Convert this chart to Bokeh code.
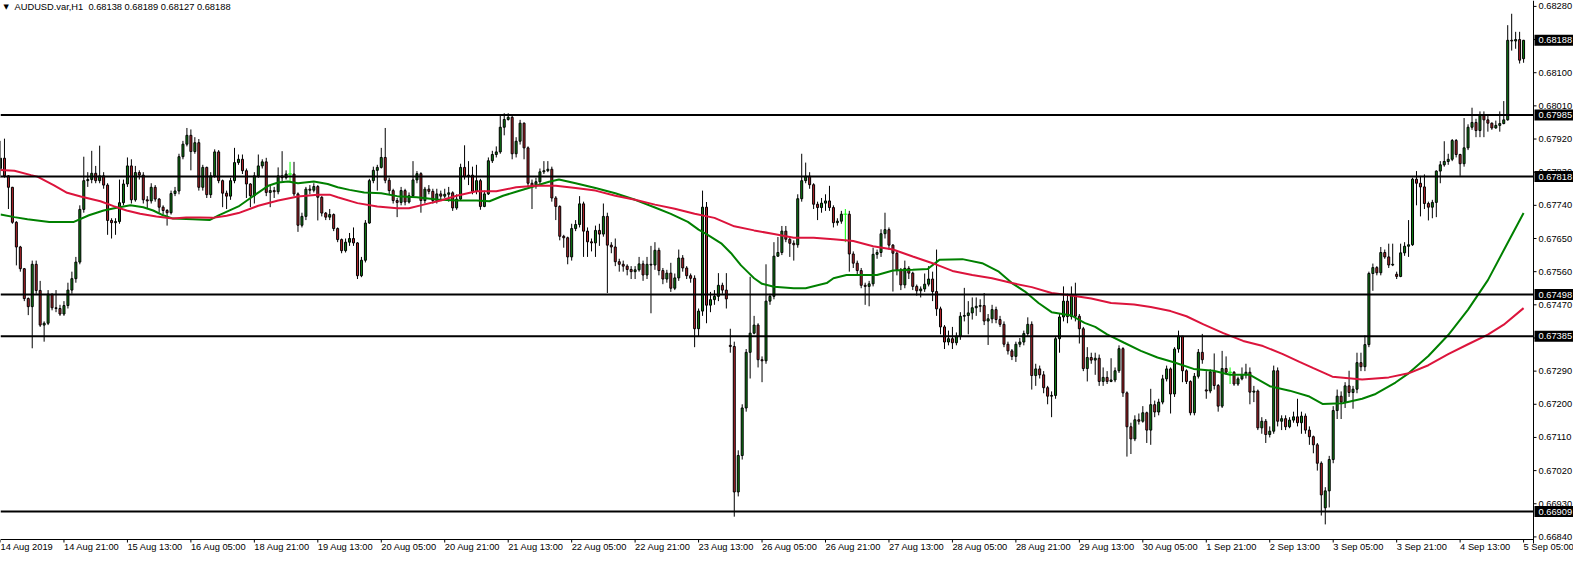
from bokeh.plotting import figure
from bokeh.models import Range1d, ColumnDataSource
from bokeh.core.properties import value
from bokeh.embed import file_html
from bokeh.resources import INLINE

# ---------------- data ----------------
chart_title = "AUDUSD.var,H1  0.68138 0.68189 0.68127 0.68188"

closes = [
    0.67868, 0.67820, 0.67789, 0.67694, 0.67627, 0.67568, 0.67487, 0.67465, 0.67580, 0.67509,
    0.67415, 0.67420, 0.67499, 0.67462, 0.67460, 0.67445, 0.67468, 0.67510, 0.67541, 0.67586,
    0.67729, 0.67807, 0.67810, 0.67827, 0.67807, 0.67820, 0.67795, 0.67699, 0.67693, 0.67696,
    0.67747, 0.67798, 0.67847, 0.67755, 0.67829, 0.67822, 0.67755, 0.67752, 0.67789, 0.67757,
    0.67735, 0.67726, 0.67720, 0.67772, 0.67779, 0.67872, 0.67906, 0.67930, 0.67886, 0.67910,
    0.67789, 0.67843, 0.67769, 0.67820, 0.67885, 0.67807, 0.67773, 0.67765, 0.67807, 0.67856,
    0.67865, 0.67834, 0.67798, 0.67766, 0.67820, 0.67847, 0.67858, 0.67775, 0.67780, 0.67777,
    0.67820, 0.67815, 0.67825, 0.67825, 0.67771, 0.67686, 0.67710, 0.67784, 0.67781, 0.67791,
    0.67762, 0.67719, 0.67708, 0.67715, 0.67677, 0.67647, 0.67617, 0.67640, 0.67650, 0.67638,
    0.67549, 0.67591, 0.67692, 0.67807, 0.67835, 0.67843, 0.67870, 0.67808, 0.67780, 0.67753,
    0.67748, 0.67780, 0.67749, 0.67766, 0.67809, 0.67826, 0.67753, 0.67784, 0.67778, 0.67753,
    0.67771, 0.67765, 0.67770, 0.67774, 0.67733, 0.67757, 0.67843, 0.67818, 0.67822, 0.67778,
    0.67807, 0.67737, 0.67771, 0.67861, 0.67878, 0.67885, 0.67952, 0.67973, 0.67979, 0.67880,
    0.67914, 0.67963, 0.67896, 0.67800, 0.67793, 0.67804, 0.67831, 0.67834, 0.67838, 0.67760,
    0.67737, 0.67656, 0.67652, 0.67600, 0.67677, 0.67688, 0.67744, 0.67670, 0.67641, 0.67638,
    0.67672, 0.67662, 0.67710, 0.67632, 0.67627, 0.67587, 0.67580, 0.67575, 0.67566, 0.67560,
    0.67565, 0.67581, 0.67551, 0.67580, 0.67578, 0.67618, 0.67563, 0.67540, 0.67556, 0.67515,
    0.67543, 0.67597, 0.67570, 0.67549, 0.67542, 0.67405, 0.67453, 0.67735, 0.67469, 0.67484,
    0.67493, 0.67523, 0.67510, 0.67486, 0.67357, 0.66962, 0.67061, 0.67190, 0.67341, 0.67393,
    0.67415, 0.67321, 0.67318, 0.67480, 0.67493, 0.67602, 0.67612, 0.67670, 0.67648, 0.67637,
    0.67633, 0.67758, 0.67807, 0.67819, 0.67796, 0.67743, 0.67734, 0.67746, 0.67752, 0.67734,
    0.67693, 0.67697, 0.67716, 0.67716, 0.67608, 0.67583, 0.67563, 0.67523, 0.67520, 0.67527,
    0.67607, 0.67612, 0.67663, 0.67674, 0.67632, 0.67610, 0.67565, 0.67524, 0.67569, 0.67556,
    0.67520, 0.67508, 0.67513, 0.67526, 0.67540, 0.67506, 0.67459, 0.67410, 0.67369, 0.67378,
    0.67367, 0.67385, 0.67439, 0.67441, 0.67448, 0.67462, 0.67466, 0.67468, 0.67426, 0.67432,
    0.67457, 0.67430, 0.67417, 0.67363, 0.67345, 0.67330, 0.67363, 0.67369, 0.67392, 0.67417,
    0.67278, 0.67296, 0.67280, 0.67245, 0.67222, 0.67224, 0.67378, 0.67437, 0.67480, 0.67438,
    0.67495, 0.67439, 0.67405, 0.67297, 0.67327, 0.67320, 0.67325, 0.67262, 0.67273, 0.67262,
    0.67266, 0.67291, 0.67351, 0.67231, 0.67139, 0.67106, 0.67158, 0.67154, 0.67177, 0.67130,
    0.67199, 0.67179, 0.67206, 0.67269, 0.67296, 0.67228, 0.67350, 0.67385, 0.67291, 0.67262,
    0.67177, 0.67276, 0.67341, 0.67321, 0.67236, 0.67288, 0.67251, 0.67195, 0.67297, 0.67287,
    0.67287, 0.67255, 0.67269, 0.67280, 0.67287, 0.67233, 0.67236, 0.67136, 0.67154, 0.67118,
    0.67127, 0.67291, 0.67154, 0.67161, 0.67139, 0.67157, 0.67166, 0.67150, 0.67168, 0.67130,
    0.67112, 0.67090, 0.67040, 0.66954, 0.66965, 0.67050, 0.67183, 0.67222, 0.67206, 0.67250,
    0.67232, 0.67241, 0.67313, 0.67302, 0.67362, 0.67555, 0.67571, 0.67557, 0.67612, 0.67600,
    0.67578, 0.67580, 0.67547, 0.67611, 0.67629, 0.67633, 0.67811, 0.67800, 0.67790, 0.67745,
    0.67735, 0.67748, 0.67833, 0.67850, 0.67859, 0.67865, 0.67916, 0.67878, 0.67853, 0.67896,
    0.67952, 0.67965, 0.67943, 0.67986, 0.67972, 0.67963, 0.67950, 0.67957, 0.67962, 0.67972,
    0.68188, 0.68186, 0.68190, 0.68134, 0.68188,
]

highs = [
    0.67915, 0.67921, 0.67822, 0.67790, 0.67697, 0.67630, 0.67570, 0.67490, 0.67590, 0.67590,
    0.67535, 0.67425, 0.67510, 0.67500, 0.67510, 0.67470, 0.67480, 0.67530, 0.67560, 0.67600,
    0.67740, 0.67872, 0.67830, 0.67888, 0.67847, 0.67902, 0.67830, 0.67800, 0.67705, 0.67705,
    0.67810, 0.67810, 0.67870, 0.67865, 0.67847, 0.67835, 0.67830, 0.67765, 0.67800, 0.67795,
    0.67760, 0.67740, 0.67730, 0.67780, 0.67790, 0.67880, 0.67915, 0.67950, 0.67946, 0.67925,
    0.67920, 0.67850, 0.67845, 0.67830, 0.67892, 0.67890, 0.67810, 0.67780, 0.67815, 0.67896,
    0.67878, 0.67878, 0.67840, 0.67800, 0.67830, 0.67878, 0.67865, 0.67869, 0.67795, 0.67790,
    0.67843, 0.67887, 0.67835, 0.67858, 0.67858, 0.67775, 0.67720, 0.67790, 0.67795, 0.67800,
    0.67795, 0.67765, 0.67722, 0.67730, 0.67718, 0.67680, 0.67650, 0.67650, 0.67665, 0.67680,
    0.67640, 0.67600, 0.67700, 0.67812, 0.67845, 0.67850, 0.67896, 0.67950, 0.67815, 0.67785,
    0.67760, 0.67790, 0.67785, 0.67775, 0.67860, 0.67833, 0.67830, 0.67790, 0.67795, 0.67785,
    0.67785, 0.67780, 0.67785, 0.67790, 0.67778, 0.67770, 0.67853, 0.67903, 0.67860, 0.67845,
    0.67850, 0.67812, 0.67780, 0.67870, 0.67888, 0.67900, 0.67985, 0.67990, 0.67990, 0.67985,
    0.67925, 0.67972, 0.67965, 0.67900, 0.67810, 0.67815, 0.67840, 0.67860, 0.67860, 0.67845,
    0.67765, 0.67740, 0.67660, 0.67655, 0.67690, 0.67700, 0.67765, 0.67750, 0.67680, 0.67650,
    0.67685, 0.67690, 0.67745, 0.67720, 0.67640, 0.67650, 0.67595, 0.67590, 0.67580, 0.67575,
    0.67575, 0.67600, 0.67590, 0.67600, 0.67630, 0.67640, 0.67625, 0.67570, 0.67565, 0.67584,
    0.67555, 0.67620, 0.67605, 0.67575, 0.67555, 0.67550, 0.67460, 0.67780, 0.67749, 0.67505,
    0.67510, 0.67556, 0.67530, 0.67556, 0.67405, 0.67370, 0.67075, 0.67200, 0.67350, 0.67546,
    0.67440, 0.67420, 0.67330, 0.67580, 0.67500, 0.67640, 0.67654, 0.67684, 0.67684, 0.67655,
    0.67645, 0.67770, 0.67880, 0.67856, 0.67830, 0.67800, 0.67750, 0.67760, 0.67770, 0.67793,
    0.67740, 0.67705, 0.67725, 0.67730, 0.67725, 0.67615, 0.67590, 0.67570, 0.67530, 0.67535,
    0.67625, 0.67620, 0.67675, 0.67720, 0.67680, 0.67635, 0.67615, 0.67570, 0.67590, 0.67575,
    0.67560, 0.67525, 0.67520, 0.67555, 0.67575, 0.67560, 0.67620, 0.67465, 0.67415, 0.67400,
    0.67410, 0.67395, 0.67450, 0.67516, 0.67480, 0.67490, 0.67490, 0.67485, 0.67502, 0.67445,
    0.67470, 0.67465, 0.67440, 0.67425, 0.67370, 0.67350, 0.67370, 0.67380, 0.67400, 0.67436,
    0.67425, 0.67310, 0.67305, 0.67290, 0.67250, 0.67235, 0.67385, 0.67445, 0.67520, 0.67500,
    0.67520, 0.67530, 0.67445, 0.67410, 0.67355, 0.67340, 0.67340, 0.67335, 0.67300, 0.67290,
    0.67325, 0.67300, 0.67360, 0.67355, 0.67235, 0.67150, 0.67170, 0.67175, 0.67195, 0.67180,
    0.67242, 0.67210, 0.67215, 0.67280, 0.67305, 0.67300, 0.67355, 0.67400, 0.67385, 0.67295,
    0.67265, 0.67285, 0.67350, 0.67391, 0.67290, 0.67295, 0.67338, 0.67255, 0.67345, 0.67330,
    0.67300, 0.67290, 0.67275, 0.67300, 0.67310, 0.67300, 0.67250, 0.67240, 0.67165, 0.67160,
    0.67140, 0.67305, 0.67300, 0.67170, 0.67170, 0.67165, 0.67180, 0.67215, 0.67180, 0.67175,
    0.67140, 0.67115, 0.67095, 0.67045, 0.66975, 0.67060, 0.67195, 0.67240, 0.67235, 0.67260,
    0.67291, 0.67250, 0.67340, 0.67340, 0.67387, 0.67560, 0.67582, 0.67575, 0.67627, 0.67620,
    0.67636, 0.67636, 0.67560, 0.67636, 0.67640, 0.67700, 0.67815, 0.67833, 0.67820, 0.67824,
    0.67750, 0.67755, 0.67835, 0.67860, 0.67914, 0.67880, 0.67920, 0.67920, 0.67880, 0.67977,
    0.67960, 0.68005, 0.67975, 0.67995, 0.67995, 0.67985, 0.67965, 0.67970, 0.67995, 0.68023,
    0.68229, 0.68260, 0.68211, 0.68211, 0.68189,
]

lows = [
    0.67815, 0.67815, 0.67730, 0.67690, 0.67577, 0.67560, 0.67480, 0.67442, 0.67352, 0.67500,
    0.67410, 0.67370, 0.67415, 0.67455, 0.67450, 0.67440, 0.67440, 0.67460, 0.67500, 0.67530,
    0.67580, 0.67720, 0.67790, 0.67800, 0.67800, 0.67800, 0.67785, 0.67660, 0.67650, 0.67660,
    0.67690, 0.67740, 0.67790, 0.67745, 0.67750, 0.67810, 0.67745, 0.67730, 0.67745, 0.67750,
    0.67720, 0.67715, 0.67685, 0.67715, 0.67765, 0.67770, 0.67865, 0.67900, 0.67835, 0.67880,
    0.67780, 0.67780, 0.67760, 0.67760, 0.67815, 0.67800, 0.67735, 0.67730, 0.67755, 0.67800,
    0.67850, 0.67825, 0.67760, 0.67735, 0.67745, 0.67815, 0.67840, 0.67765, 0.67735, 0.67760,
    0.67770, 0.67805, 0.67810, 0.67802, 0.67765, 0.67668, 0.67680, 0.67700, 0.67770, 0.67775,
    0.67699, 0.67710, 0.67700, 0.67700, 0.67670, 0.67640, 0.67610, 0.67612, 0.67630, 0.67630,
    0.67540, 0.67545, 0.67585, 0.67690, 0.67800, 0.67780, 0.67840, 0.67800, 0.67770, 0.67745,
    0.67708, 0.67740, 0.67740, 0.67745, 0.67760, 0.67800, 0.67720, 0.67745, 0.67770, 0.67745,
    0.67745, 0.67755, 0.67760, 0.67750, 0.67725, 0.67728, 0.67752, 0.67810, 0.67795, 0.67770,
    0.67770, 0.67728, 0.67735, 0.67768, 0.67855, 0.67870, 0.67880, 0.67930, 0.67970, 0.67865,
    0.67870, 0.67905, 0.67865, 0.67790, 0.67730, 0.67785, 0.67795, 0.67825, 0.67830, 0.67750,
    0.67700, 0.67645, 0.67625, 0.67580, 0.67590, 0.67670, 0.67680, 0.67600, 0.67600, 0.67615,
    0.67600, 0.67630, 0.67655, 0.67502, 0.67610, 0.67575, 0.67560, 0.67560, 0.67550, 0.67540,
    0.67540, 0.67560, 0.67535, 0.67540, 0.67447, 0.67565, 0.67550, 0.67526, 0.67530, 0.67505,
    0.67510, 0.67535, 0.67560, 0.67540, 0.67530, 0.67355, 0.67385, 0.67440, 0.67420, 0.67450,
    0.67470, 0.67480, 0.67500, 0.67460, 0.67340, 0.66895, 0.66950, 0.67050, 0.67180, 0.67270,
    0.67390, 0.67300, 0.67260, 0.67310, 0.67470, 0.67485, 0.67600, 0.67605, 0.67640, 0.67600,
    0.67590, 0.67625, 0.67750, 0.67800, 0.67785, 0.67730, 0.67700, 0.67720, 0.67725, 0.67725,
    0.67680, 0.67685, 0.67690, 0.67640, 0.67560, 0.67570, 0.67550, 0.67515, 0.67470, 0.67466,
    0.67520, 0.67595, 0.67600, 0.67650, 0.67620, 0.67506, 0.67550, 0.67510, 0.67515, 0.67540,
    0.67510, 0.67495, 0.67490, 0.67505, 0.67520, 0.67480, 0.67440, 0.67390, 0.67350, 0.67360,
    0.67350, 0.67360, 0.67375, 0.67425, 0.67390, 0.67430, 0.67440, 0.67450, 0.67415, 0.67361,
    0.67420, 0.67420, 0.67410, 0.67355, 0.67335, 0.67320, 0.67315, 0.67355, 0.67360, 0.67385,
    0.67240, 0.67250, 0.67270, 0.67230, 0.67200, 0.67165, 0.67215, 0.67340, 0.67425, 0.67420,
    0.67430, 0.67425, 0.67365, 0.67290, 0.67262, 0.67310, 0.67280, 0.67250, 0.67250, 0.67255,
    0.67260, 0.67260, 0.67285, 0.67220, 0.67058, 0.67065, 0.67100, 0.67145, 0.67150, 0.67095,
    0.67090, 0.67165, 0.67170, 0.67200, 0.67262, 0.67175, 0.67220, 0.67340, 0.67260, 0.67255,
    0.67170, 0.67170, 0.67270, 0.67310, 0.67215, 0.67230, 0.67240, 0.67180, 0.67190, 0.67280,
    0.67255, 0.67250, 0.67250, 0.67265, 0.67270, 0.67200, 0.67206, 0.67130, 0.67120, 0.67095,
    0.67110, 0.67120, 0.67140, 0.67130, 0.67130, 0.67135, 0.67150, 0.67140, 0.67120, 0.67120,
    0.67090, 0.67067, 0.67020, 0.66898, 0.66874, 0.66920, 0.67040, 0.67160, 0.67160, 0.67190,
    0.67220, 0.67188, 0.67230, 0.67290, 0.67290, 0.67355, 0.67508, 0.67550, 0.67550, 0.67595,
    0.67570, 0.67575, 0.67540, 0.67545, 0.67603, 0.67600, 0.67630, 0.67740, 0.67710, 0.67730,
    0.67699, 0.67705, 0.67708, 0.67800, 0.67845, 0.67850, 0.67860, 0.67870, 0.67820, 0.67845,
    0.67890, 0.67945, 0.67925, 0.67925, 0.67925, 0.67940, 0.67945, 0.67948, 0.67940, 0.67960,
    0.67970, 0.68160, 0.68165, 0.68125, 0.68127,
]

# bars whose open differs from the previous close (first bar and gaps)
open_gaps = {0: 0.67840, 184: 0.67360, 304: 0.67239, 334: 0.66919, 352: 0.67553, 384: 0.68138}
doji_bars = [73, 213, 310]

# moving averages (bar position, price)
ma_fast_x = [0, 3.5, 6.8, 12.3, 18.5, 22.3, 26, 29, 32.75, 36, 38.5, 41, 43.5, 48.5, 52.7, 55,
             60, 63.3, 67.5, 70, 72.5, 75, 79, 82.5, 85, 88, 91.7, 96, 100, 105, 110, 115, 120,
             123.3, 126.7, 130, 135, 138.3, 140.8, 145, 150, 155, 160, 165, 169, 173.3, 176,
             178.3, 181.7, 184.2, 186.7, 188.3, 190, 192, 195, 200, 203, 205.5, 208.3, 210,
             213.3, 221, 225, 230, 233.75, 236.7, 242.5, 247.5, 251.7, 255, 258.3, 261.7, 265,
             270, 273.3, 276, 279, 283.3, 287.5, 291.7, 295.8, 300.8, 305.8, 310, 315, 320, 325,
             330, 333.3, 338.3, 343.3, 346.7, 351.7, 355, 360, 365, 370, 375, 379, 384]
ma_fast_y = [0.67715, 0.67708, 0.67702, 0.67695, 0.67695, 0.67713, 0.67726, 0.67733, 0.67740,
             0.67735, 0.67726, 0.67713, 0.67704, 0.67702, 0.67700, 0.67713,
             0.67737, 0.67762, 0.67793, 0.67802, 0.67805, 0.67800, 0.67805, 0.67798, 0.67789,
             0.67782, 0.67775, 0.67773, 0.67765, 0.67762, 0.67756, 0.67753, 0.67753,
             0.67751, 0.67766, 0.67777, 0.67793, 0.67804, 0.67810, 0.67800, 0.67787, 0.67773,
             0.67755, 0.67734, 0.67717, 0.67695, 0.67674,
             0.67660, 0.67637, 0.67610, 0.67577, 0.67560, 0.67542, 0.67527, 0.67519, 0.67515,
             0.67515, 0.67522, 0.67529, 0.67542,
             0.67551, 0.67551, 0.67563, 0.67565, 0.67567, 0.67592, 0.67594, 0.67583, 0.67560,
             0.67529, 0.67506, 0.67475, 0.67450,
             0.67441, 0.67421, 0.67410, 0.67390, 0.67367, 0.67345, 0.67327, 0.67314, 0.67296,
             0.67291, 0.67280, 0.67280, 0.67249, 0.67237,
             0.67221, 0.67201, 0.67203, 0.67215, 0.67228, 0.67259, 0.67284, 0.67331, 0.67388,
             0.67457, 0.67537, 0.67618, 0.67719]

ma_slow_x = [0, 3.5, 7.7, 9.3, 13.5, 16.8, 20.2, 25.2, 28.5, 31.8, 35.2, 39.3, 43.5, 46.8, 50.2,
             53.5, 57, 60, 65, 70, 75, 80, 83, 85, 90, 95, 100, 103, 106.7, 111, 115, 120, 125,
             130, 135, 140, 145, 150, 155, 160, 165, 170, 175, 180, 185, 190, 195, 200, 205, 210,
             215, 220, 225, 230, 235, 240, 245, 250, 255, 260, 265, 270, 275, 280, 285.8, 290,
             295, 299, 303.3, 308.3, 313.3, 318.3, 323.3, 327.5, 331, 335.8, 343.3, 350, 355,
             360, 365, 370, 375, 379, 384]
ma_slow_y = [0.67836, 0.67834, 0.67822, 0.67818, 0.67794, 0.67774, 0.67764, 0.67751, 0.67738,
             0.67726, 0.67717, 0.67710, 0.67704, 0.67707, 0.67707,
             0.67706, 0.67712, 0.67719, 0.67739, 0.67753, 0.67764, 0.67769, 0.67769, 0.67762,
             0.67746, 0.67737, 0.67732, 0.67732, 0.67742, 0.67753, 0.67766, 0.67778, 0.67778,
             0.67789, 0.67793, 0.67793, 0.67787, 0.67780, 0.67766, 0.67755, 0.67742, 0.67731,
             0.67717, 0.67706, 0.67683, 0.67672, 0.67662, 0.67652, 0.67652, 0.67648,
             0.67643, 0.67629, 0.67620, 0.67601, 0.67583, 0.67562, 0.67551, 0.67542, 0.67529,
             0.67518, 0.67502, 0.67495, 0.67487, 0.67475, 0.67471, 0.67464,
             0.67453, 0.67439, 0.67417, 0.67393, 0.67372, 0.67358, 0.67336, 0.67315, 0.67298,
             0.67275, 0.67267, 0.67273, 0.67284,
             0.67306, 0.67336, 0.67363, 0.67389, 0.67416, 0.67461]

level_prices = [0.67985, 0.67818, 0.67498, 0.67385, 0.66909]
last_price = 0.68188

price_ticks = [0.66840, 0.66930, 0.67020, 0.67110, 0.67200, 0.67290, 0.67380, 0.67470, 0.67560,
               0.67650, 0.67740, 0.67830, 0.67920, 0.68010, 0.68100, 0.68190, 0.68280]

time_labels = ["14 Aug 2019", "14 Aug 21:00", "15 Aug 13:00", "16 Aug 05:00", "18 Aug 21:00",
               "19 Aug 13:00", "20 Aug 05:00", "20 Aug 21:00", "21 Aug 13:00", "22 Aug 05:00",
               "22 Aug 21:00", "23 Aug 13:00", "26 Aug 05:00", "26 Aug 21:00", "27 Aug 13:00",
               "28 Aug 05:00", "28 Aug 21:00", "29 Aug 13:00", "30 Aug 05:00", "1 Sep 21:00",
               "2 Sep 13:00", "3 Sep 05:00", "3 Sep 21:00", "4 Sep 13:00", "5 Sep 05:00"]
bars_per_label = 16

# ---------------- layout / styles ----------------
FONT = "Liberation Sans"
FS = "9.3px"
BULL = "#0E7F14"
BEAR = "#B3242B"
DOJI = "#00FF00"
MA_FAST = "#008000"
MA_SLOW = "#DC143C"

W, H = 1573, 554            # canvas
AXIS_PX = 1533              # x pixel of the price axis line
BOTTOM_BAND = 15            # pixels below the time axis line
PRICE_TOP = 0.68296         # price at the top edge of the canvas
PRICE_AXIS = 0.66833        # price at the time-axis line
X_AXIS_BAR = 386.5          # bar position of the price axis line

ppy = (PRICE_TOP - PRICE_AXIS) / (H - BOTTOM_BAND)   # price per pixel
ppx = X_AXIS_BAR / AXIS_PX                            # bars per pixel
y_start = PRICE_AXIS - BOTTOM_BAND * ppy
x_end = W * ppx

n = len(closes)
opens = [open_gaps.get(i, closes[i - 1] if i > 0 else closes[0]) for i in range(n)]

bull = dict(x=[], top=[], bottom=[])
bear = dict(x=[], top=[], bottom=[])
wick = dict(x=[], lo=[], hi=[])
dj = dict(x=[], lo=[], hi=[], y=[])
for i in range(n):
    o, c = opens[i], closes[i]
    h = max(highs[i], o, c)
    l = min(lows[i], o, c)
    if i in doji_bars:
        dj["x"].append(i); dj["lo"].append(l); dj["hi"].append(h); dj["y"].append(c)
        continue
    wick["x"].append(i); wick["lo"].append(l); wick["hi"].append(h)
    tgt = bull if c >= o else bear
    tgt["x"].append(i); tgt["top"].append(max(o, c)); tgt["bottom"].append(min(o, c))

p = figure(width=W, height=H, output_backend="svg", toolbar_location=None,
           x_range=Range1d(0, x_end), y_range=Range1d(y_start, PRICE_TOP),
           x_axis_location=None, y_axis_location=None, min_border=0)
p.xgrid.visible = False
p.ygrid.visible = False
p.outline_line_color = None
p.background_fill_color = "white"
p.border_fill_color = "white"

# candles
p.segment(x0="x", y0="lo", x1="x", y1="hi", source=ColumnDataSource(wick),
          line_color="black", line_width=1)
p.vbar(x="x", width=0.5, top="top", bottom="bottom", source=ColumnDataSource(bull),
       fill_color=BULL, line_color="black", line_width=1)
p.vbar(x="x", width=0.5, top="top", bottom="bottom", source=ColumnDataSource(bear),
       fill_color=BEAR, line_color="black", line_width=1)
djs = ColumnDataSource(dj)
p.segment(x0="x", y0="lo", x1="x", y1="hi", source=djs, line_color=DOJI, line_width=1)
p.dash(x="x", y="y", source=djs, size=4, line_color=DOJI, line_width=1)

# moving averages
p.line(ma_fast_x, ma_fast_y, line_color=MA_FAST, line_width=2)
p.line(ma_slow_x, ma_slow_y, line_color=MA_SLOW, line_width=2)

# horizontal levels
p.segment(x0=[0] * len(level_prices), x1=[X_AXIS_BAR] * len(level_prices),
          y0=level_prices, y1=level_prices, line_color="black", line_width=2)

# axis lines
p.segment(x0=[0, X_AXIS_BAR], x1=[X_AXIS_BAR, X_AXIS_BAR],
          y0=[PRICE_AXIS, PRICE_AXIS - 4 * ppy], y1=[PRICE_AXIS, PRICE_TOP],
          line_color="black", line_width=1)

# price axis ticks and labels
p.segment(x0=[X_AXIS_BAR] * len(price_ticks), x1=[X_AXIS_BAR + 3 * ppx] * len(price_ticks),
          y0=price_ticks, y1=price_ticks, line_color="black", line_width=1)
p.text(x=[X_AXIS_BAR + 5 * ppx] * len(price_ticks), y=price_ticks,
       text=[f"{t:.5f}" for t in price_ticks], text_font=value(FONT),
       text_font_size=value(FS), text_color="black", text_align="left",
       text_baseline="middle")

# time axis ticks and labels
tick_bars = list(range(0, n, bars_per_label))
p.segment(x0=tick_bars, x1=tick_bars, y0=[PRICE_AXIS] * len(tick_bars),
          y1=[PRICE_AXIS - 3 * ppy] * len(tick_bars), line_color="black", line_width=1)
p.text(x=tick_bars, y=[PRICE_AXIS - 2 * ppy] * len(tick_bars), text=time_labels,
       text_font=value(FONT), text_font_size=value(FS), text_color="black",
       text_align="left", text_baseline="top")

# price boxes for the levels and the last price
box_prices = level_prices + [last_price]
p.quad(left=[X_AXIS_BAR + 1 * ppx] * len(box_prices), right=[x_end] * len(box_prices),
       top=[b + 5.5 * ppy for b in box_prices], bottom=[b - 5.5 * ppy for b in box_prices],
       fill_color="black", line_color=None)
p.text(x=[X_AXIS_BAR + 5 * ppx] * len(box_prices), y=box_prices,
       text=[f"{b:.5f}" for b in box_prices], text_font=value(FONT),
       text_font_size=value(FS), text_color="white", text_align="left",
       text_baseline="middle")

# title
p.text(x=[3 * ppx], y=[PRICE_TOP - 2 * ppy], text=["\u25BC"], text_font=value("DejaVu Sans"),
       text_font_size=value("7px"), text_color="black", text_align="left",
       text_baseline="top")
p.text(x=[14 * ppx], y=[PRICE_TOP - 1 * ppy], text=[chart_title.replace("  ", "\u00a0\u00a0")],
       text_font=value(FONT), text_font_size=value(FS), text_color="black",
       text_align="left", text_baseline="top")

open("out.html", "w").write(file_html(p, INLINE))
